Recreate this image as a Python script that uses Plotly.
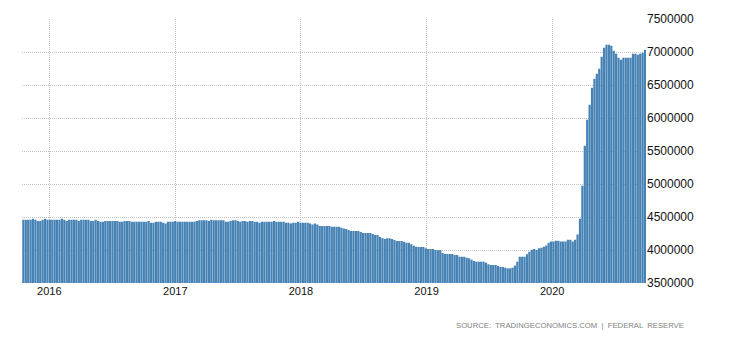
import pandas as pd
import plotly.graph_objects as go

# Federal Reserve total assets, weekly (USD millions), Wednesday readings
assets_2015 = [
    4459000, 4459000, 4459000, 4459000, 4474000, 4459000, 4439000, 4439000,
    4459000, 4474000, 4459000, 4459000,
]
assets_2016 = [
    4459000, 4459000, 4459000, 4459000, 4474000, 4459000, 4439000, 4459000,
    4459000, 4459000, 4459000, 4439000, 4459000, 4459000, 4459000, 4459000,
    4439000, 4439000, 4459000, 4439000, 4429000, 4429000, 4439000, 4439000,
    4439000, 4439000, 4439000, 4439000, 4429000, 4429000, 4439000, 4439000,
    4439000, 4429000, 4429000, 4429000, 4429000, 4429000, 4429000, 4429000,
    4439000, 4414000, 4414000, 4429000, 4429000, 4429000, 4414000, 4403000,
    4429000, 4429000, 4429000, 4439000,
]
assets_2017 = [
    4429000, 4429000, 4429000, 4429000, 4429000, 4429000, 4429000, 4429000,
    4439000, 4449000, 4449000, 4449000, 4449000, 4439000, 4459000, 4449000,
    4449000, 4449000, 4449000, 4449000, 4429000, 4429000, 4439000, 4449000,
    4449000, 4439000, 4429000, 4439000, 4439000, 4429000, 4439000, 4439000,
    4429000, 4429000, 4414000, 4429000, 4429000, 4429000, 4429000, 4429000,
    4439000, 4429000, 4429000, 4429000, 4429000, 4414000, 4414000, 4403000,
    4414000, 4414000, 4429000, 4414000,
]
assets_2018 = [
    4414000, 4414000, 4414000, 4403000, 4388000, 4403000, 4388000, 4363000,
    4363000, 4363000, 4363000, 4363000, 4353000, 4353000, 4353000, 4353000,
    4338000, 4327000, 4318000, 4303000, 4288000, 4288000, 4288000, 4288000,
    4273000, 4258000, 4258000, 4258000, 4258000, 4242000, 4227000, 4227000,
    4197000, 4177000, 4167000, 4177000, 4177000, 4167000, 4152000, 4136000,
    4136000, 4136000, 4126000, 4111000, 4111000, 4086000, 4066000, 4051000,
    4046000, 4046000, 4046000, 4025000,
]
assets_2019 = [
    4015000, 4015000, 4015000, 4000000, 3995000, 4000000, 3955000, 3939000,
    3939000, 3939000, 3939000, 3924000, 3924000, 3899000, 3899000, 3899000,
    3884000, 3874000, 3853000, 3833000, 3823000, 3823000, 3823000, 3823000,
    3808000, 3783000, 3773000, 3773000, 3773000, 3758000, 3742000, 3742000,
    3732000, 3722000, 3722000, 3732000, 3763000, 3823000, 3899000, 3899000,
    3899000, 3934000, 3975000, 4005000, 4015000, 4000000, 4025000, 4035000,
    4051000, 4070000, 4110000, 4127000,
]
assets_2020 = [
    4127000, 4142000, 4142000, 4127000, 4127000, 4127000, 4157000, 4157000,
    4127000, 4157000, 4233000, 4475000, 4975000, 5581000, 5975000, 6202000,
    6460000, 6596000, 6672000, 6748000, 6929000, 7066000, 7111000, 7111000,
    7096000, 7020000, 6975000, 6914000, 6884000, 6914000, 6914000, 6914000,
    6914000, 6975000, 6975000, 6960000, 6975000, 6990000, 7035000,
]

first_week = "2015-10-14"
y_ticks = [3500000, 4000000, 4500000, 5000000, 5500000, 6000000, 6500000, 7000000, 7500000]
source_note = "SOURCE:  TRADINGECONOMICS.COM  |  FEDERAL  RESERVE"

values = assets_2015 + assets_2016 + assets_2017 + assets_2018 + assets_2019 + assets_2020
weeks = pd.date_range(first_week, periods=len(values), freq="7D")

DAY_MS = 86400000
BAR_COLOR = "#4682B4"
GRID = dict(showgrid=True, gridcolor="#c4c4c4", gridwidth=1, griddash="1px,1px")

fig = go.Figure(
    go.Bar(
        x=weeks,
        y=values,
        marker=dict(color=BAR_COLOR, line=dict(width=0)),
        width=6.4 * DAY_MS,
        offset=0.5 * DAY_MS,
        hoverinfo="x+y",
    )
)

fig.update_layout(
    width=730,
    height=340,
    margin=dict(l=22, r=84, t=19, b=57),
    paper_bgcolor="white",
    plot_bgcolor="white",
    showlegend=False,
    font=dict(family="Liberation Sans, Arial, sans-serif", size=11, color="#111111"),
    annotations=[
        dict(
            text=source_note,
            xref="paper",
            yref="paper",
            x=1.0 + (686 - 646) / 624,
            y=-(325 - 283) / 264,
            xanchor="right",
            yanchor="middle",
            showarrow=False,
            font=dict(family="Liberation Sans, Arial, sans-serif", size=7.7, color="#7f7f7f"),
        )
    ],
)

fig.update_xaxes(
    type="date",
    range=["2015-10-13 17:00", "2020-09-29 12:00"],
    tick0="2016-01-01",
    dtick="M12",
    tickformat="%Y",
    ticks="",
    showline=False,
    zeroline=False,
    tickfont=dict(size=11, color="#111111"),
    **GRID,
)

fig.update_yaxes(
    side="right",
    range=[y_ticks[0], y_ticks[-1]],
    tickvals=y_ticks,
    ticktext=[str(v) for v in y_ticks],
    ticks="",
    showline=False,
    zeroline=False,
    tickfont=dict(size=12, color="#111111"),
    **GRID,
)

fig.write_html("out.html")
